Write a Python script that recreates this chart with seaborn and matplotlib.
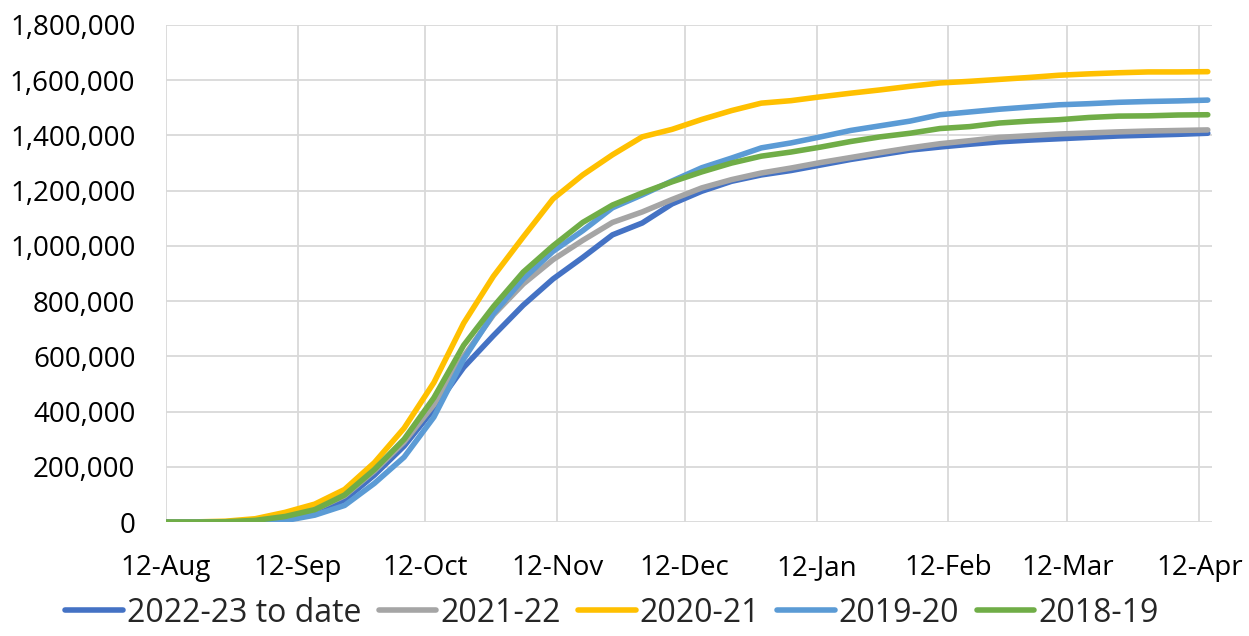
import numpy as np
import pandas as pd
import matplotlib
matplotlib.use('Agg')
import matplotlib.pyplot as plt
import matplotlib.dates as mdates
from matplotlib.ticker import FuncFormatter, MultipleLocator
import seaborn as sns

# weekly cumulative totals, week starting 12-Aug
weeks = pd.date_range('2022-08-12', periods=36, freq='7D')
seasons = ['2022-23 to date', '2021-22', '2020-21', '2019-20', '2018-19']
colors = ['#4472C4', '#A5A5A5', '#FFC000', '#5B9BD5', '#70AD47']

s2022 = [0, 0, 500, 3000, 12000, 35000, 80000, 170000, 275000, 410000, 560000, 675000,
         785000, 880000, 958000, 1040000, 1083000, 1152000, 1198000, 1234000, 1257000, 1273000,
         1293000, 1313000, 1330000, 1347000, 1358000, 1368000, 1377000, 1383000, 1388000, 1393000,
         1398000, 1401000, 1404000, 1408000]
s2021 = [0, 0, 1000, 5000, 18000, 45000, 95000, 185000, 290000, 425000, 600000, 750000,
         862000, 950000, 1020000, 1085000, 1123000, 1168000, 1210000, 1240000, 1264000, 1282000,
         1302000, 1320000, 1338000, 1355000, 1370000, 1381000, 1393000, 1399000, 1405000, 1409000,
         1413000, 1416000, 1418000, 1420000]
s2020 = [0, 500, 3000, 12000, 35000, 65000, 118000, 215000, 340000, 505000, 720000, 890000,
         1032000, 1170000, 1257000, 1330000, 1395000, 1422000, 1458000, 1490000, 1517000, 1526000,
         1540000, 1553000, 1565000, 1578000, 1590000, 1596000, 1603000, 1610000, 1618000, 1623000,
         1627000, 1630000, 1630000, 1631000]
s2019 = [0, 0, 0, 1000, 5000, 25000, 60000, 140000, 235000, 380000, 590000, 755000,
         880000, 980000, 1055000, 1138000, 1185000, 1235000, 1283000, 1318000, 1355000, 1373000,
         1395000, 1418000, 1435000, 1452000, 1475000, 1485000, 1495000, 1503000, 1511000, 1515000,
         1520000, 1523000, 1525000, 1528000]
s2018 = [0, 0, 1000, 6000, 20000, 45000, 98000, 190000, 300000, 450000, 640000, 780000,
         905000, 1000000, 1085000, 1148000, 1192000, 1232000, 1268000, 1300000, 1325000, 1340000,
         1358000, 1378000, 1395000, 1408000, 1425000, 1432000, 1445000, 1452000, 1457000, 1465000,
         1470000, 1471000, 1474000, 1475000]

df = pd.DataFrame({'week': np.tile(weeks, 5),
                   'season': np.repeat(seasons, len(weeks)),
                   'total': s2022 + s2021 + s2020 + s2019 + s2018})

sns.set_style('white')
plt.rcParams['font.family'] = ['Open Sans', 'DejaVu Sans']

fig = plt.figure(figsize=(12.49, 6.36), dpi=100)
ax = fig.add_axes([0.1329, 0.1792, 0.8375, 0.7815])

sns.lineplot(data=df, x='week', y='total', hue='season', hue_order=seasons,
             palette=dict(zip(seasons, colors)), linewidth=4.0, ax=ax)
for ln in ax.get_lines():
    ln.set_solid_capstyle('round')
    ln.set_solid_joinstyle('round')

ax.set_xlim(weeks[0], weeks[0] + pd.Timedelta(days=246))
ax.set_ylim(0, 1800000)
ax.yaxis.set_major_locator(MultipleLocator(200000))
ax.yaxis.set_major_formatter(FuncFormatter(lambda v, p: f'{v:,.0f}'))
ax.xaxis.set_major_locator(mdates.MonthLocator(bymonthday=12))
ax.xaxis.set_major_formatter(mdates.DateFormatter('%d-%b'))

ax.grid(True, color='#D9D9D9', linewidth=1.3)
ax.set_axisbelow(True)
for sp in ax.spines.values():
    sp.set_visible(False)
ax.tick_params(axis='both', length=0, labelsize=20, colors='black')
ax.tick_params(axis='y', pad=22)
ax.tick_params(axis='x', pad=23)
ax.set_xlabel('')
ax.set_ylabel('')

handles, labels = ax.get_legend_handles_labels()
ax.get_legend().remove()
fig.legend(handles, labels, loc='lower center', bbox_to_anchor=(0.49, -0.035), ncol=5,
           frameon=False, fontsize=23, handlelength=1.8, handletextpad=0.12, columnspacing=0.55)

fig.savefig('out.png', dpi=100)
